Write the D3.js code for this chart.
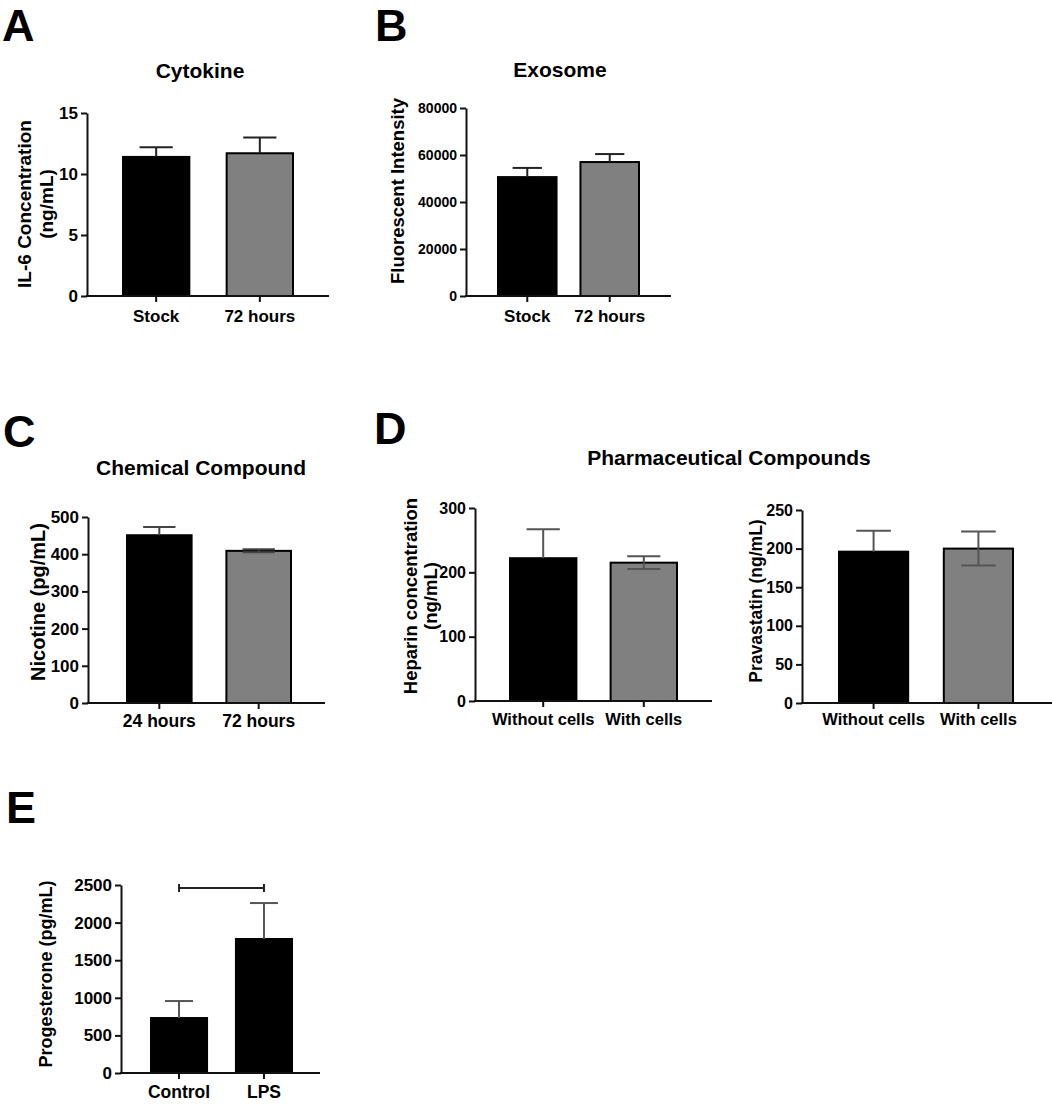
<!DOCTYPE html>
<html>
<head>
<meta charset="utf-8">
<script src="https://cdn.jsdelivr.net/npm/d3@7"></script>
<style>
  body { margin: 0; background: #fff; }
  text { font-family: "Liberation Sans", Arial, sans-serif; font-weight: bold; fill: #000; }
</style>
</head>
<body>
<script>
// values
var cytokineCats = ['Stock', '72 hours'];
var cytokineMeans = [11.4, 11.7];
var cytokineErr = [0.8, 1.3];
var cytokineTicks = [0, 5, 10, 15];

var exosomeCats = ['Stock', '72 hours'];
var exosomeMeans = [50600, 57000];
var exosomeErr = [3900, 3400];
var exosomeTicks = [0, 20000, 40000, 60000, 80000];

var nicotineCats = ['24 hours', '72 hours'];
var nicotineMeans = [451, 409];
var nicotineErr = [22, 4];
var nicotineTicks = [0, 100, 200, 300, 400, 500];

var heparinCats = ['Without cells', 'With cells'];
var heparinMeans = [222, 215];
var heparinErr = [45, 10];
var heparinTicks = [0, 100, 200, 300];

var pravastatinCats = ['Without cells', 'With cells'];
var pravastatinMeans = [196, 200];
var pravastatinErr = [27, 22];
var pravastatinTicks = [0, 50, 100, 150, 200, 250];

var progesteroneCats = ['Control', 'LPS'];
var progesteroneMeans = [731, 1782];
var progesteroneErr = [226, 478];
var progesteroneTicks = [0, 500, 1000, 1500, 2000, 2500];
var progesteroneBracket = ['Control', 'LPS', 2460];

var svg = d3.select('body').append('svg')
  .attr('width', 1052)
  .attr('height', 1108);

function panel(o) {
  var y = d3.scaleLinear().domain([0, d3.max(o.ticks)]).range([o.y0, o.yTop]);
  var x = d3.scaleBand().domain(o.cats).range(o.barRange).paddingInner(o.pad).paddingOuter(0);
  var g = svg.append('g');
  var cap = x.bandwidth() / 4;

  // bars
  g.selectAll('rect')
    .data(o.cats)
    .enter()
    .append('rect')
    .attr('x', function(d) { return x(d); })
    .attr('y', function(d, i) { return y(o.means[i]); })
    .attr('width', x.bandwidth())
    .attr('height', function(d, i) { return y(0) - y(o.means[i]); })
    .attr('fill', function(d, i) { return o.colors[i]; })
    .attr('stroke', '#000')
    .attr('stroke-width', 2);

  // error bars (upper, plus lower where it shows on the grey bar)
  o.cats.forEach(function(d, i) {
    var cx = x(d) + x.bandwidth() / 2;
    var ends = [o.means[i] + o.errs[i]];
    if (o.lower && o.lower[i]) ends.push(o.means[i] - o.errs[i]);
    ends.forEach(function(v) {
      g.append('line').attr('x1', cx).attr('x2', cx)
        .attr('y1', y(o.means[i])).attr('y2', y(v))
        .attr('stroke', o.errColor).attr('stroke-width', 2);
      g.append('line').attr('x1', cx - cap).attr('x2', cx + cap)
        .attr('y1', y(v)).attr('y2', y(v))
        .attr('stroke', o.errColor).attr('stroke-width', 2);
    });
  });

  // y axis
  var ya = g.append('g')
    .attr('transform', 'translate(' + o.axisX + ',0)')
    .call(d3.axisLeft(y).tickValues(o.ticks).tickSize(6).tickSizeOuter(0).tickPadding(3).tickFormat(d3.format('d')));
  ya.select('.domain').attr('stroke', '#111').attr('stroke-width', 2);
  ya.selectAll('.tick line').attr('stroke', '#111').attr('stroke-width', 2);
  ya.selectAll('.tick text')
    .style('font-family', '"Liberation Sans", Arial, sans-serif')
    .style('font-weight', 'bold')
    .style('font-size', o.tickFont + 'px')
    .attr('fill', '#000');

  // x axis
  g.append('line')
    .attr('x1', o.axisX - 1).attr('x2', o.xEnd)
    .attr('y1', o.y0).attr('y2', o.y0)
    .attr('stroke', '#111').attr('stroke-width', 2);
  g.selectAll('.xt')
    .data(o.cats)
    .enter()
    .append('line')
    .attr('x1', function(d) { return x(d) + x.bandwidth() / 2; })
    .attr('x2', function(d) { return x(d) + x.bandwidth() / 2; })
    .attr('y1', o.y0).attr('y2', o.y0 + 6)
    .attr('stroke', '#111').attr('stroke-width', 2);
  g.selectAll('.xl')
    .data(o.cats)
    .enter()
    .append('text')
    .attr('x', function(d) { return x(d) + x.bandwidth() / 2; })
    .attr('y', o.xLabelY)
    .attr('text-anchor', 'middle')
    .style('font-size', o.xFont + 'px')
    .text(function(d) { return d; });

  // y label (one or two lines)
  o.ylabel.forEach(function(t, i) {
    g.append('text')
      .attr('transform', 'translate(' + o.ylabelX[i] + ',' + o.ylabelY + ') rotate(-90)')
      .attr('text-anchor', 'middle')
      .attr('dominant-baseline', 'central')
      .style('font-size', o.yFont + 'px')
      .text(t);
  });

  return { x: x, y: y, g: g };
}

function label(t, x, y, size, anchor) {
  svg.append('text')
    .attr('x', x).attr('y', y)
    .attr('text-anchor', anchor || 'start')
    .style('font-size', size + 'px')
    .text(t);
}

// panel letters and titles
label('A', 2, 41, 45);
label('B', 375, 41, 45);
label('C', 3, 447, 45);
label('D', 374, 444, 45);
label('E', 6, 823, 45);
label('Cytokine', 200, 78, 21, 'middle');
label('Exosome', 560, 77, 21, 'middle');
label('Chemical Compound', 201, 475, 21, 'middle');
label('Pharmaceutical Compounds', 729, 465, 21, 'middle');

panel({
  cats: cytokineCats, means: cytokineMeans, errs: cytokineErr, ticks: cytokineTicks,
  axisX: 87, xEnd: 329, barRange: [123, 293], pad: 0.36, yTop: 113, y0: 296,
  colors: ['#000', '#808080'], errColor: '#222', tickFont: 17, xFont: 17, yFont: 19,
  xLabelY: 322, ylabel: ['IL-6 Concentration', '(ng/mL)'], ylabelX: [24, 46], ylabelY: 204
});

panel({
  cats: exosomeCats, means: exosomeMeans, errs: exosomeErr, ticks: exosomeTicks,
  axisX: 466, xEnd: 671, barRange: [498, 639], pad: 0.29, yTop: 108, y0: 296,
  colors: ['#000', '#808080'], errColor: '#222', tickFont: 14, xFont: 17, yFont: 18.5,
  xLabelY: 322, ylabel: ['Fluorescent Intensity'], ylabelX: [397], ylabelY: 191
});

panel({
  cats: nicotineCats, means: nicotineMeans, errs: nicotineErr, ticks: nicotineTicks,
  axisX: 88, xEnd: 325, barRange: [127, 291], pad: 0.35, yTop: 517, y0: 703,
  colors: ['#000', '#808080'], errColor: '#444', tickFont: 17, xFont: 17.5, yFont: 20,
  xLabelY: 727, ylabel: ['Nicotine (pg/mL)'], ylabelX: [38], ylabelY: 602, lower: [false, true]
});

panel({
  cats: heparinCats, means: heparinMeans, errs: heparinErr, ticks: heparinTicks,
  axisX: 475, xEnd: 712, barRange: [510, 677], pad: 0.34, yTop: 508, y0: 701,
  colors: ['#000', '#808080'], errColor: '#555', tickFont: 16, xFont: 16.5, yFont: 18.5,
  xLabelY: 725, ylabel: ['Heparin concentration', '(ng/mL)'], ylabelX: [410, 430], ylabelY: 596,
  lower: [false, true]
});

panel({
  cats: pravastatinCats, means: pravastatinMeans, errs: pravastatinErr, ticks: pravastatinTicks,
  axisX: 802, xEnd: 1052, barRange: [839, 1013], pad: 0.34, yTop: 510, y0: 703,
  colors: ['#000', '#808080'], errColor: '#555', tickFont: 16, xFont: 16.5, yFont: 17.5,
  xLabelY: 725, ylabel: ['Pravastatin (ng/mL)'], ylabelX: [756], ylabelY: 601,
  lower: [false, true]
});

var pe = panel({
  cats: progesteroneCats, means: progesteroneMeans, errs: progesteroneErr, ticks: progesteroneTicks,
  axisX: 121, xEnd: 320, barRange: [151, 292], pad: 0.34, yTop: 885, y0: 1073,
  colors: ['#000', '#000'], errColor: '#555', tickFont: 17, xFont: 17.5, yFont: 18,
  xLabelY: 1098, ylabel: ['Progesterone (pg/mL)'], ylabelX: [46], ylabelY: 974
});

// significance bracket between Control and LPS
var bx1 = pe.x(progesteroneBracket[0]) + pe.x.bandwidth() / 2;
var bx2 = pe.x(progesteroneBracket[1]) + pe.x.bandwidth() / 2;
var by = pe.y(progesteroneBracket[2]);
pe.g.append('path')
  .attr('d', 'M' + bx1 + ',' + (by - 4) + 'V' + (by + 4) + 'M' + bx1 + ',' + by + 'H' + bx2 + 'M' + bx2 + ',' + (by - 4) + 'V' + (by + 4))
  .attr('fill', 'none')
  .attr('stroke', '#222')
  .attr('stroke-width', 2);
</script>
</body>
</html>
